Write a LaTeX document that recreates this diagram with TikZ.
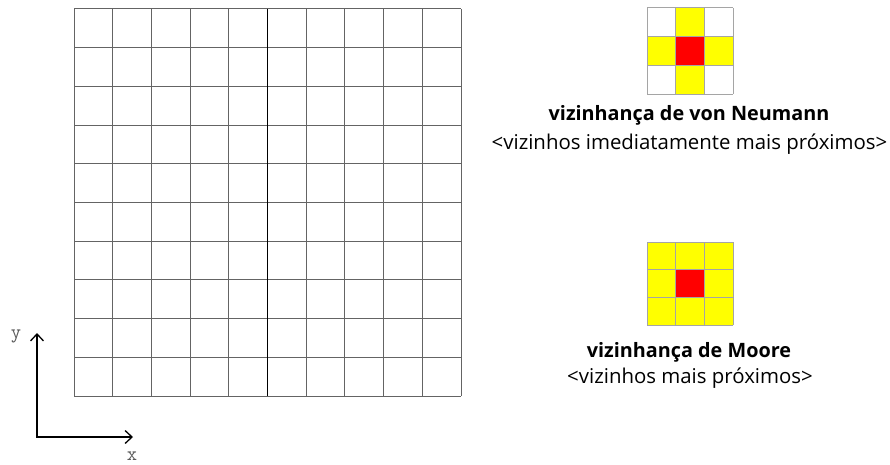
\documentclass[tikz,border=0pt]{standalone}
\usepackage{fontspec}
\setmainfont{Open Sans}
\usetikzlibrary{arrows.meta}
\definecolor{cellyellow}{RGB}{255,255,0}
\definecolor{cellred}{RGB}{255,0,0}
\definecolor{gridgray}{RGB}{100,100,100}
\definecolor{smallgray}{RGB}{165,165,165}
\definecolor{labelgray}{RGB}{90,90,90}

\begin{document}
\begin{tikzpicture}[x=1pt,y=-1pt,>={Straight Barb[length=7pt,width=13pt]}]
\tikzstyle{gridline}=[draw=gridgray,line width=1pt]
\tikzstyle{midline}=[draw=black,line width=1.5pt]
\tikzstyle{smallline}=[draw=smallgray,line width=1pt]
\tikzstyle{titlebox}=[font=\fontsize{19.8}{24}\selectfont\bfseries,align=center]
\tikzstyle{notebox}=[font=\fontsize{20.4}{24}\selectfont,align=center]
\tikzstyle{axislabel}=[font=\fontsize{20}{22}\selectfont\ttfamily,text=labelgray]
\useasboundingbox (0,0) rectangle (890,465);
% big cell grid
\foreach \i in {0,...,10} {
  \draw[gridline] ({74+38.7*\i},9) -- ({74+38.7*\i},396);
  \draw[gridline] (74,{9+38.7*\i}) -- (461,{9+38.7*\i});
}
\draw[midline] (267.5,9) -- (267.5,396);
% von Neumann neighbourhood
\foreach \c/\r in {1/0,0/1,2/1,1/2}
  \fill[cellyellow] ({647+28.7*\c},{8+28.7*\r}) rectangle +(28.7,28.7);
\fill[cellred] ({647+28.7},{8+28.7}) rectangle +(28.7,28.7);
\foreach \i in {0,...,3} {
  \draw[smallline] ({647+28.7*\i},8) -- ({647+28.7*\i},94);
  \draw[smallline] (647,{8+28.7*\i}) -- (733,{8+28.7*\i});
}
\node[titlebox] (vnname) at (689,115) {vizinhança de von Neumann};
\node[notebox] (vnnote) at (689.5,144) {<vizinhos imediatamente mais próximos>};
% Moore neighbourhood
\fill[cellyellow] (647,242) rectangle (733,325);
\fill[cellred] ({647+28.7},{242+27.7}) rectangle +(28.7,27.7);
\foreach \i in {0,...,3} {
  \draw[smallline] ({647+28.7*\i},242) -- ({647+28.7*\i},325);
  \draw[smallline] (647,{242+27.7*\i}) -- (733,{242+27.7*\i});
}
\node[titlebox] (moorename) at (689,352) {vizinhança de Moore};
\node[notebox] (moorenote) at (690,378) {<vizinhos mais próximos>};
% axes
\coordinate (origin) at (37,437);
\coordinate (ytip) at (37,333);
\coordinate (xtip) at (133,437);
\draw[<->,line width=1.3pt] (ytip) -- (origin) -- (xtip);
\node[axislabel] (ylabel) at (16,336) {y};
\node[axislabel] (xlabel) at (132,456) {x};
\end{tikzpicture}
\end{document}
